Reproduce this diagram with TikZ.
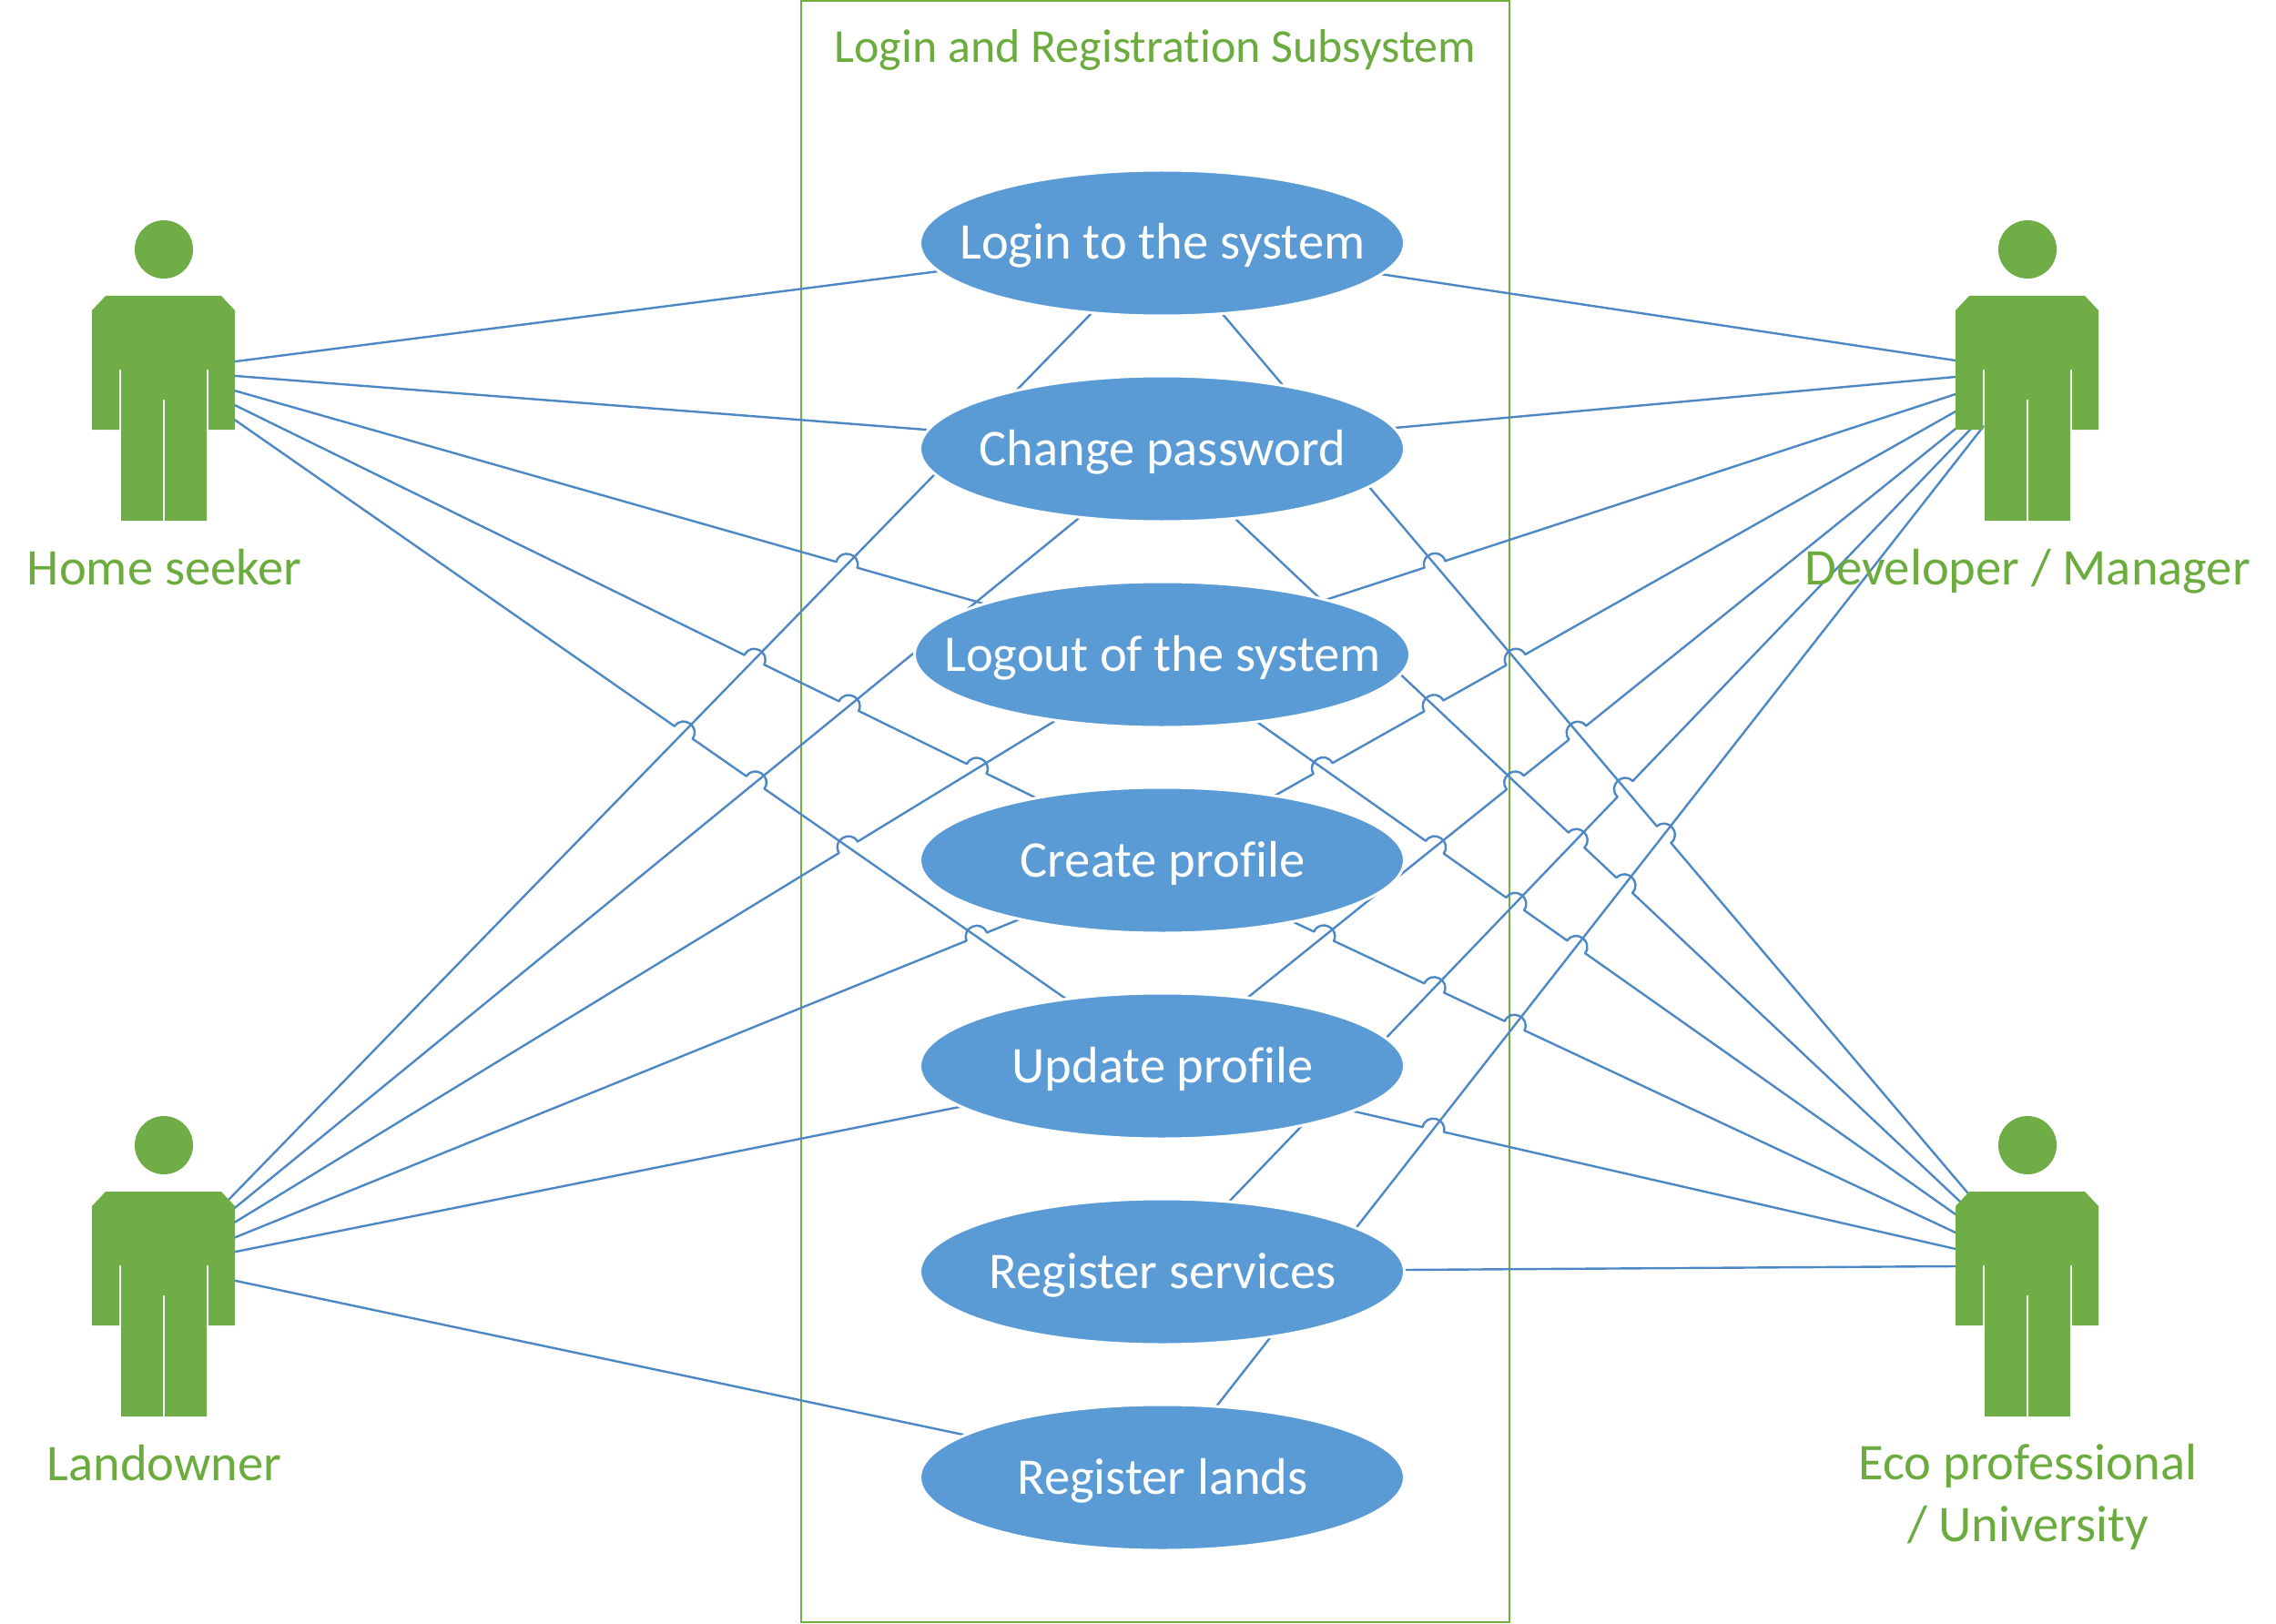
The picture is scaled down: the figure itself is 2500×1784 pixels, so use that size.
\documentclass[tikz,border=0pt]{standalone}
\usepackage{fontspec}
\setmainfont[Ligatures=NoCommon]{Carlito}
\usetikzlibrary{calc,shapes.geometric}
\definecolor{actgreen}{HTML}{70AD47}
\definecolor{labgreen}{HTML}{6CAC3E}
\definecolor{boxgreen}{HTML}{6FAF3A}
\definecolor{usefill}{HTML}{5B9BD5}
\definecolor{conncol}{HTML}{4D88C4}
\tikzset{
  usecase/.style={ellipse,fill=usefill,draw=white,line width=3pt,outer sep=0pt,inner sep=0pt,
    minimum width=532pt,minimum height=160pt},
  usetext/.style={text=white,anchor=base,inner sep=0pt,font=\fontsize{56.5}{66}\selectfont},
  actorlabel/.style={text=labgreen,align=center,inner sep=0pt,font=\fontsize{56.5}{68}\selectfont},
  conn/.style={draw=conncol,line width=2.4pt,line cap=round,line join=round},
  actorshape/.style={fill=actgreen,draw=none},
  sysbox/.style={draw=boxgreen,line width=2.6pt,fill=none}
}
% straight connector, carried a little under the shapes at both of its ends
\newcommand\plainline[2]{%
  \draw[conn] ($(#1)!-6pt!(#2)$) -- ($(#2)!-6pt!(#1)$);}
% connector with a line jump over each listed line (listed in order, left to right)
\newcommand\jumpline[3]{%
  \coordinate (cur) at ($(#1)!-6pt!(#2)$);
  \foreach \ca/\cb in {#3}{%
    \coordinate (cross) at (intersection cs:first line={(#1)--(#2)},second line={(\ca)--(\cb)});
    \coordinate (hopP) at ($(cross)!12pt!(#1)$);
    \coordinate (hopQ) at ($(cross)!12pt!(#2)$);
    \draw[conn] (cur) -- (hopP)
      .. controls ($(hopP)!16pt!90:(hopQ)$) and ($(hopQ)!16pt!-90:(hopP)$) .. (hopQ);
    \coordinate (cur) at (hopQ);
  }%
  \draw[conn] (cur) -- ($(#2)!-6pt!(#1)$);}
\newcommand\actorfig[2]{%
  \begin{scope}[shift={(#1,#2)}]
    \fill[actorshape] (180,274) circle (32pt);
    \fill[actorshape] (116,325) -- (243,325) -- (258,341) -- (258,472) -- (229,472) -- (229,406)
      -- (227,406) -- (227,572) -- (181,572) -- (181,439) -- (179,439) -- (179,572) -- (133,572)
      -- (133,406) -- (131,406) -- (131,472) -- (101,472) -- (101,341) -- cycle;
  \end{scope}}
\newcommand\usecasenode[4][]{%
  \node[usecase,#1] (#2) at (1276.5,#3) {};
  \node[usetext] (#2text) at ($(#2)+(0.5,18)$) {#4};}
\begin{document}
\begin{tikzpicture}[x=1pt,y=-1pt]
\useasboundingbox (0,0) rectangle (2500,1784);
\draw[sysbox] (880,1) rectangle (1658,1782);
\node[text=labgreen,inner sep=0pt,anchor=base,font=\fontsize{52}{60}\selectfont] (title) at (1269,68.5) {Login and Registration Subsystem};
% ports on actors
\foreach \n/\x/\y in {ha/259/397,hb/259/413,hc/259/429.5,hd/259/445.6,he/259/462,
  la/252/1317,lb/259/1326,lc/259/1342,ld/259/1359,le/259/1375,lf/259/1407,
  da/2148/396,db/2148/414,dc/2148/433,dd/2148/452,de/2148/471,df/2163/473,dg/2175/473,
  ea/2161/1310,eb/2153/1320,ec/2148/1334,ed/2148/1354,ee/2148/1372,ef/2148/1391}
  {\coordinate (\n) at (\x,\y);}
% ends on use cases
\foreach \n/\x/\y in {hA/1031/298,hB/1017/472,hC/1080/663,hD/1137/876,hE/1172/1098,
  lA/1199/344,lB/1184/570,lC/1157/793,lD/1117/1011,lE/1054/1216,lF/1058/1576,
  dA/1516/301,dB/1532/470,dC/1459/658,dD/1402/873,dE/1369/1097,dF/1350/1320,dG/1336/1545,
  eA/1342/344,eB/1358/571,eC/1382/794,eD/1421/1013,eE/1488/1221,eF/1543/1395}
  {\coordinate (\n) at (\x,\y);}
% connectors: Home seeker
\plainline{ha}{hA}
\plainline{hb}{hB}
\jumpline{hc}{hC}{la/lA}
\jumpline{hd}{hD}{la/lA,lb/lB,lc/lC}
\jumpline{he}{hE}{la/lA,lb/lB}
% Landowner
\plainline{la}{lA}
\plainline{lb}{lB}
\jumpline{lc}{lC}{he/hE}
\jumpline{ld}{lD}{he/hE}
\plainline{le}{lE}
\plainline{lf}{lF}
% Developer
\plainline{dA}{da}
\plainline{dB}{db}
\jumpline{dC}{dc}{eA/ea}
\jumpline{dD}{dd}{eC/ec,eB/eb,eA/ea}
\jumpline{dE}{de}{eB/eb,eA/ea}
\jumpline{dF}{df}{eA/ea}
\plainline{dG}{dg}
% Eco professional
\jumpline{eA}{ea}{dG/dg}
\jumpline{eB}{eb}{dF/df,dG/dg}
\jumpline{eC}{ec}{dE/de,dF/df,dG/dg}
\jumpline{eD}{ed}{dE/de,dF/df,dG/dg}
\jumpline{eE}{ee}{dG/dg}
\plainline{eF}{ef}
% use cases
\usecasenode{login}{267}{Login to the system}
\usecasenode{change}{493}{Change password}
\usecasenode[minimum width=544pt]{logout}{719}{Logout of the system}
\usecasenode{create}{945}{Create profile}
\usecasenode{update}{1171}{Update profile}
\usecasenode{services}{1397}{Register services}
\usecasenode{lands}{1623}{Register lands}
% actors
\actorfig{0}{0}
\actorfig{0}{984}
\actorfig{2047}{0}
\actorfig{2047}{984}
\node[actorlabel,anchor=base] (home) at (180.5,642.5) {Home seeker};
\node[actorlabel,anchor=base] (land) at (180.5,1626.5) {Landowner};
\node[actorlabel,anchor=base] (dev) at (2227,642.5) {Developer / Manager};
\node[actorlabel,anchor=north] (eco) at (2227.5,1586.5) {Eco professional\\/ University};
\end{tikzpicture}
\end{document}
